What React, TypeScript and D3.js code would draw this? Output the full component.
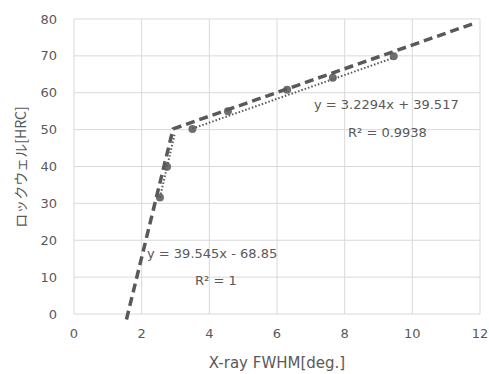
import React from "react";
import * as d3 from "d3";

const xTicks = [0, 2, 4, 6, 8, 10, 12];
const yTicks = [0, 10, 20, 30, 40, 50, 60, 70, 80];

const fwhm = [2.54, 2.75, 3.5, 4.55, 6.3, 7.65, 9.45];
const hrc = [31.6, 39.9, 50.2, 55.0, 60.8, 64.1, 69.9];

const foldX = [1.55, 2.93, 11.88];
const foldY = [-1.5, 50.2, 79.0];

const steepFit = { slope: 39.545, intercept: -68.85, from: 2.54, to: 2.97 };
const flatFit = { slope: 3.2294, intercept: 39.517, from: 3.5, to: 9.45 };

const labels = [
  { text: "y = 3.2294x + 39.517", x: 314, y: 109 },
  { text: "R² = 0.9938", x: 348, y: 137 },
  { text: "y = 39.545x - 68.85", x: 147, y: 258 },
  { text: "R² = 1", x: 195, y: 285 },
];

export default function App() {
  const W = 489, H = 374;
  const x = d3.scaleLinear().domain([0, 12]).range([74, 480]);
  const y = d3.scaleLinear().domain([0, 80]).range([314, 19]);
  const line = d3.line<[number, number]>().x(d => x(d[0])).y(d => y(d[1]));
  const foldPts: [number, number][] = foldX.map((v, i) => [v, foldY[i]]);
  const fitPts = (f: typeof steepFit): [number, number][] => [
    [f.from, f.slope * f.from + f.intercept],
    [f.to, f.slope * f.to + f.intercept],
  ];
  const font = "'DejaVu Sans', Verdana, sans-serif";
  const textColor = "#595959";
  return (
    <svg width={W} height={H} style={{ position: "absolute", left: 0, top: 0, background: "#fff" }} fontFamily={font}>
      <rect x={0} y={0} width={W} height={H} fill="#fff" />
      {xTicks.map(t => (
        <line key={"gx" + t} x1={x(t)} x2={x(t)} y1={y(0)} y2={y(80)} stroke="#d9d9d9" strokeWidth={1} />
      ))}
      {yTicks.map(t => (
        <line key={"gy" + t} x1={x(0)} x2={x(12)} y1={y(t)} y2={y(t)} stroke="#d9d9d9" strokeWidth={1} />
      ))}
      {xTicks.map(t => (
        <text key={"tx" + t} x={x(t)} y={338} textAnchor="middle" fontSize={13} fill={textColor}>{t}</text>
      ))}
      {yTicks.map(t => (
        <text key={"ty" + t} x={57} y={y(t) + 4.5} textAnchor="end" fontSize={13} fill={textColor}>{t}</text>
      ))}
      <text x={277} y={368} textAnchor="middle" fontSize={15} fill={textColor}>X-ray FWHM[deg.]</text>
      <text transform={`translate(26,167) rotate(-90)`} textAnchor="middle" fontSize={14} fill={textColor}
        fontFamily="'Noto Sans CJK JP', 'DejaVu Sans', sans-serif">ロックウェル[HRC]</text>
      {fwhm.map((v, i) => (
        <circle key={"p" + i} cx={x(v)} cy={y(hrc[i])} r={4} fill="#6f6f6f" />
      ))}
      <path d={line(fitPts(steepFit)) || ""} fill="none" stroke="#595959" strokeWidth={2} strokeDasharray="1.5,2" />
      <path d={line(fitPts(flatFit)) || ""} fill="none" stroke="#595959" strokeWidth={2} strokeDasharray="1.5,2" transform="translate(0,2)" />
      <path d={line(foldPts) || ""} fill="none" stroke="#595959" strokeWidth={3.5} strokeDasharray="9,5" strokeLinejoin="round" />
      {labels.map((l, i) => (
        <text key={"l" + i} x={l.x} y={l.y} fontSize={13} fill={textColor}>{l.text}</text>
      ))}
    </svg>
  );
}
